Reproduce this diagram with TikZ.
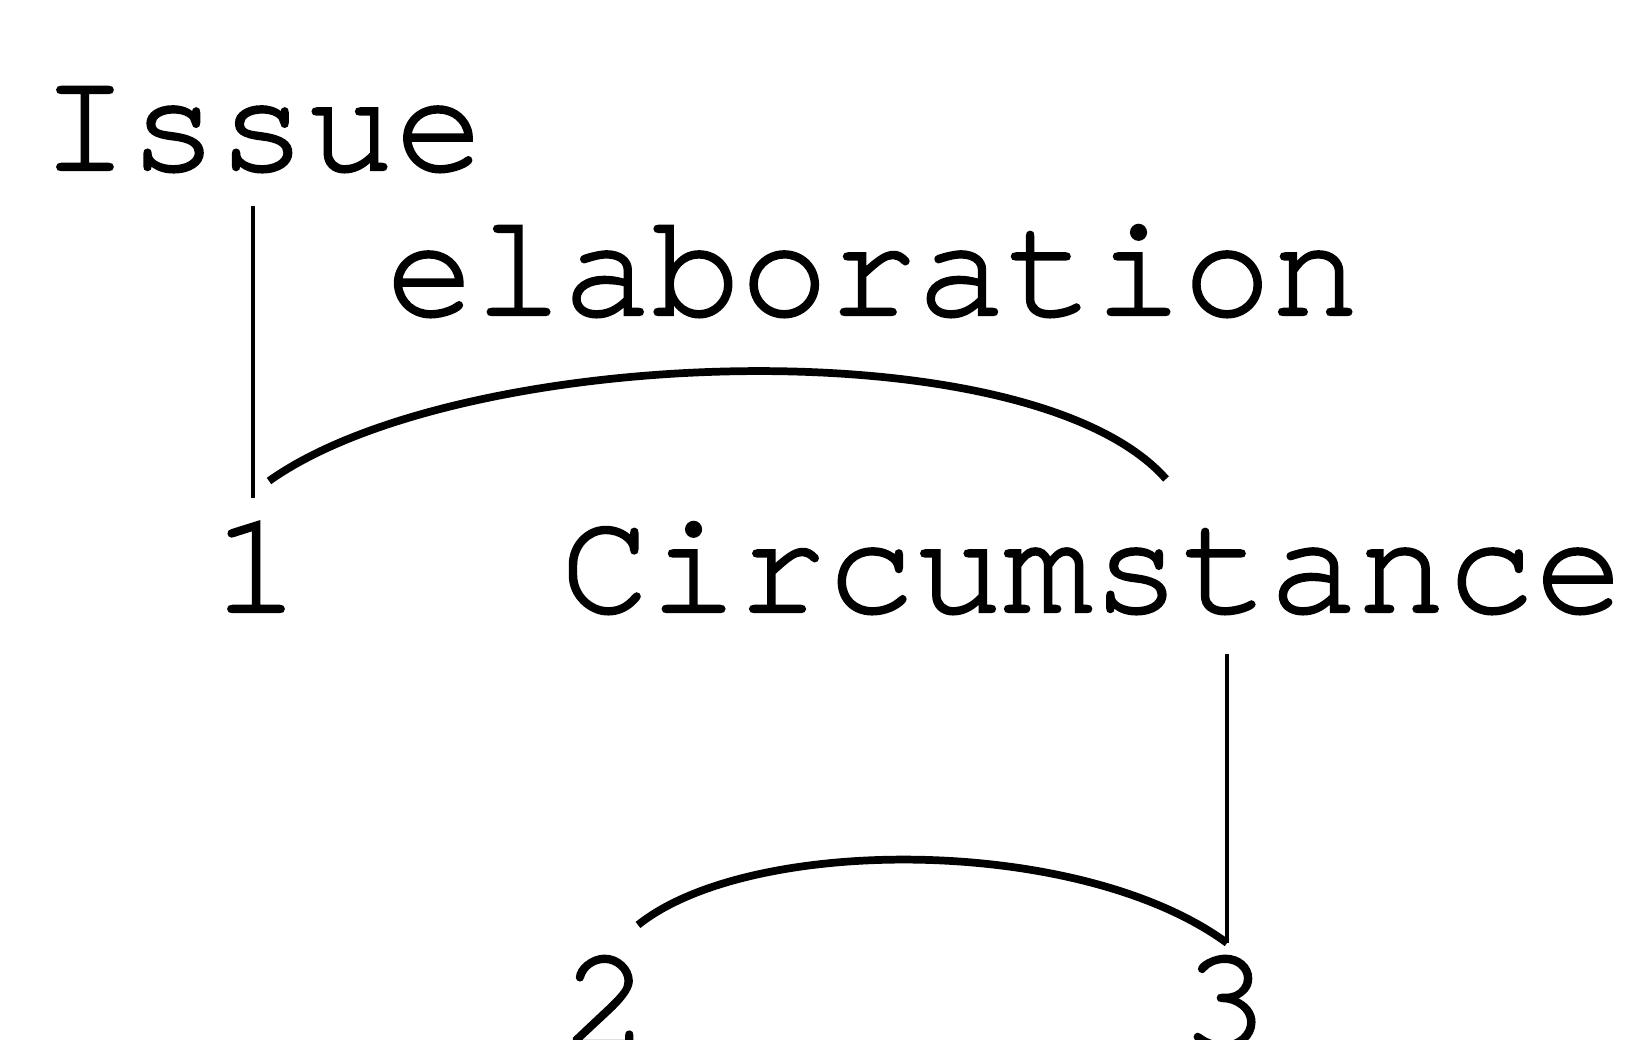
\documentclass[tikz,border=0pt]{standalone}
\usepackage{fontspec}
\newfontfamily\courier[FakeBold=1.6]{TeX Gyre Cursor}
\usetikzlibrary{positioning}

\begin{document}
\begin{tikzpicture}[
    lbl/.style={inner sep=0pt, font=\courier\fontsize{42}{50}\selectfont},
    stem/.style={line width=1.1pt},
    span/.style={line width=2.2pt}
  ]
      \useasboundingbox (0,0) rectangle (16.33,10.40);

      % Nucleus and satellite labels
      \node[lbl, anchor=base west] (issue) at (0.40,8.70) {Issue};
      \node[lbl, anchor=base west] (elab) at (3.85,7.25) {elaboration};
      \node[lbl, anchor=base] (one) at (2.56,4.28) {1};
      \node[lbl, anchor=base west] (circ) at (5.60,4.28) {Circumstance};
      \node[lbl, anchor=base] (two) at (6.06,-0.07) {2};
      \node[lbl, anchor=base] (three) at (12.25,-0.07) {3};

      % Upper relation
      \coordinate (s1top) at (2.53,8.34);
      \coordinate (s1bot) at (2.53,5.42);
      \coordinate (a1left) at (2.69,5.59);
      \coordinate (a1right) at (11.66,5.61);
      \draw[stem] (s1top) -- (s1bot);
      \draw[span] (a1left) .. controls (4.6,6.95) and (10.3,7.15) .. (a1right);

      % Lower relation
      \coordinate (s2top) at (12.27,3.86);
      \coordinate (s2bot) at (12.27,0.97);
      \coordinate (a2left) at (6.38,1.15);
      \draw[stem] (s2top) -- (s2bot);
      \draw[span] (a2left) .. controls (7.5,2.05) and (10.8,2.05) .. (s2bot);
    \end{tikzpicture}
\end{document}
